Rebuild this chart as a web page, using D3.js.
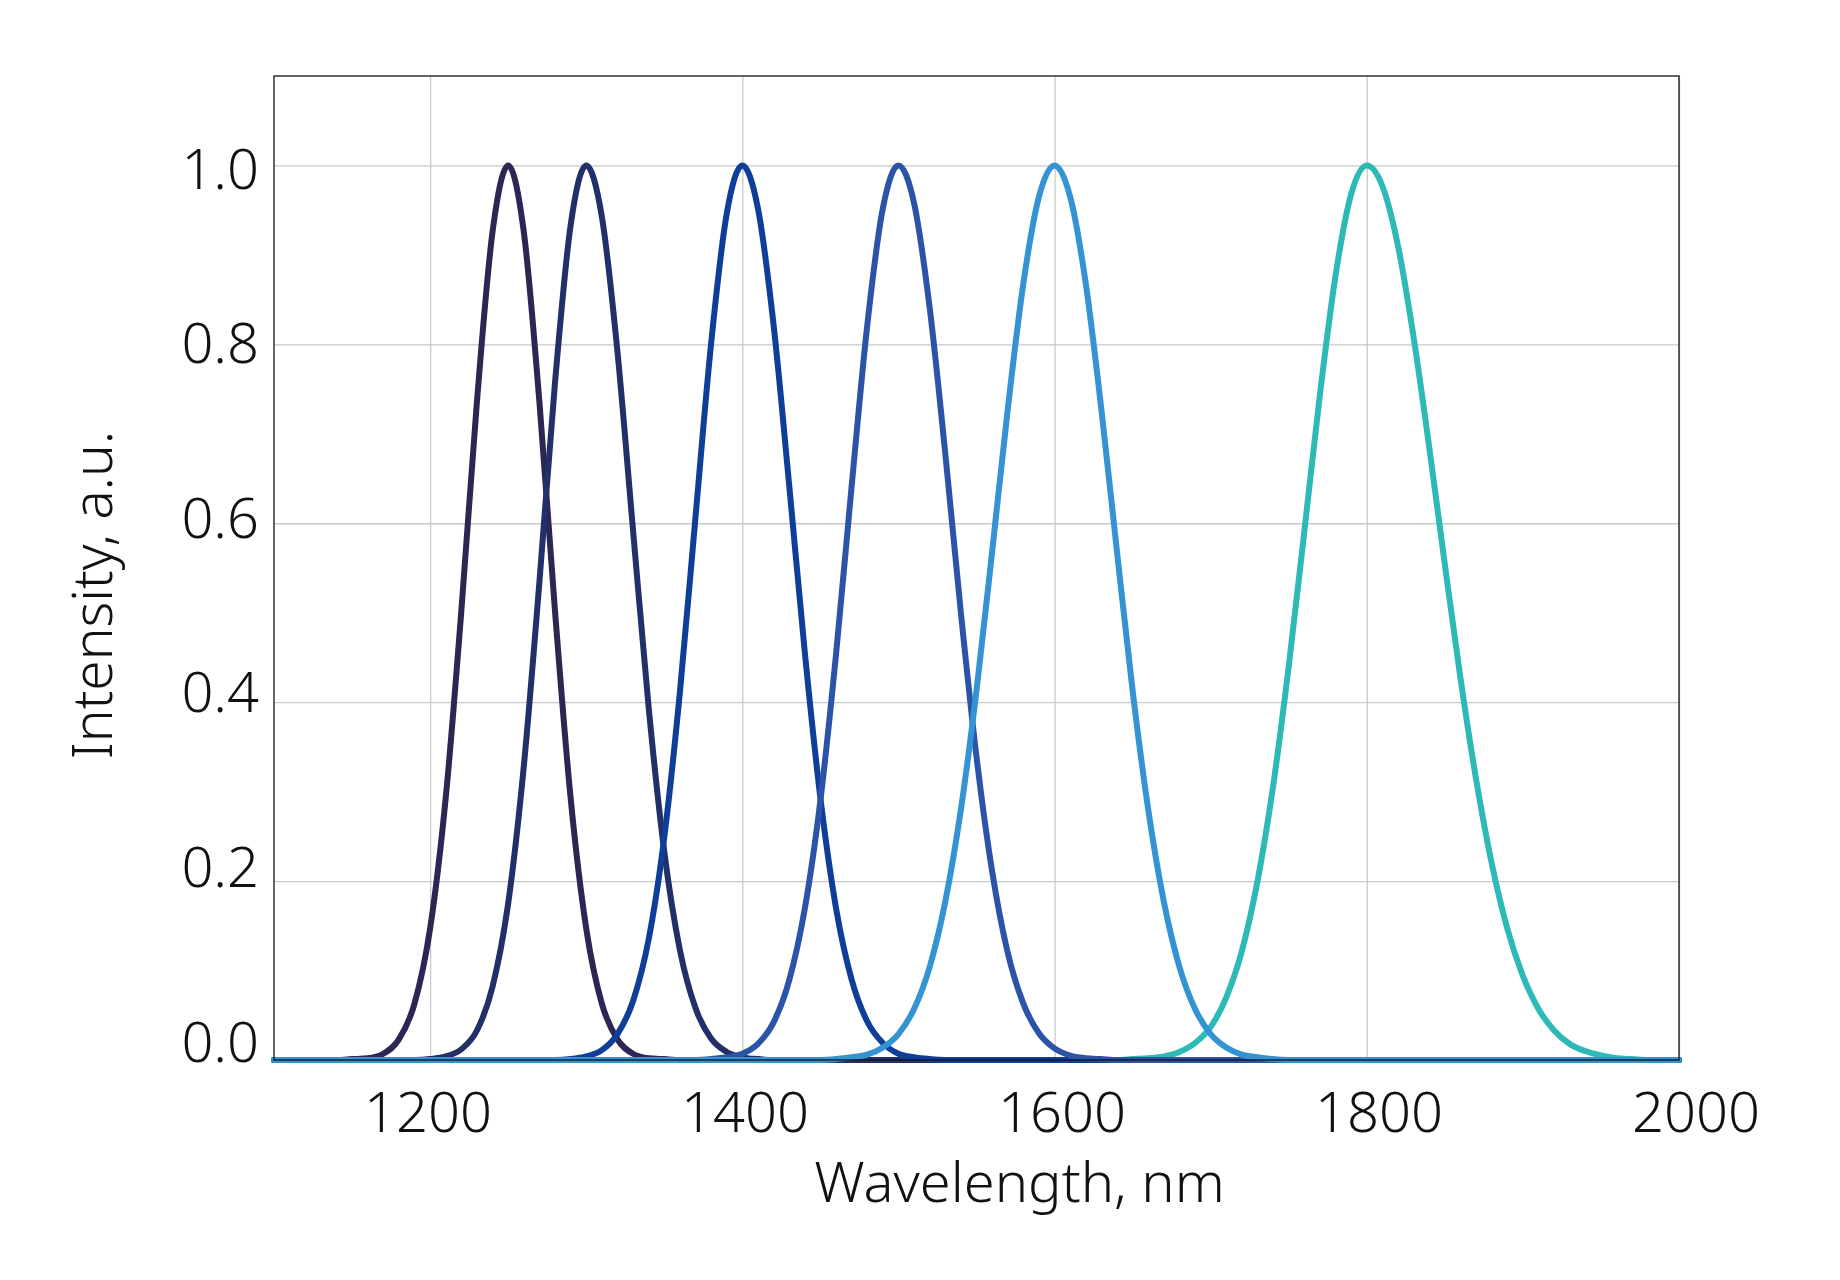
<!DOCTYPE html>
<html>
<head>
<meta charset="utf-8">
<script src="https://cdn.jsdelivr.net/npm/d3@7"></script>
<style>
	body { margin: 0; background: #fff; }
	text { font-family: "Noto Sans", sans-serif; font-weight: 300; fill: #111; }
	.grid line { stroke: #c9c9c9; stroke-width: 1.3; }
	.grid path { display: none; }
	.labels path { display: none; }
</style>
</head>
<body>
<div id="chart-area"><svg></svg></div>
<script>
const chartSize = { width: 1840, height: 1280 };
const margin = { left: 274, right: 161, top: 76, bottom: 220 };
const width = chartSize.width - margin.left - margin.right;
const height = chartSize.height - margin.top - margin.bottom;

// wavelength samples, nm
const wavelengths = [
	1100, 1110, 1120, 1130, 1140, 1150, 1160, 1170, 1180, 1190,
	1200, 1210, 1220, 1230, 1240, 1250, 1260, 1270, 1280, 1290,
	1300, 1310, 1320, 1330, 1340, 1350, 1360, 1370, 1380, 1390,
	1400, 1410, 1420, 1430, 1440, 1450, 1460, 1470, 1480, 1490,
	1500, 1510, 1520, 1530, 1540, 1550, 1560, 1570, 1580, 1590,
	1600, 1610, 1620, 1630, 1640, 1650, 1660, 1670, 1680, 1690,
	1700, 1710, 1720, 1730, 1740, 1750, 1760, 1770, 1780, 1790,
	1800, 1810, 1820, 1830, 1840, 1850, 1860, 1870, 1880, 1890,
	1900, 1910, 1920, 1930, 1940, 1950, 1960, 1970, 1980, 1990,
	2000
];

// normalised intensity of each source, one value per wavelength
const peak1250 = [
	0, 0, 0, 0, 0, 0.001, 0.002, 0.007, 0.023, 0.063,
	0.147, 0.293, 0.502, 0.736, 0.926, 1.000, 0.926, 0.736, 0.502, 0.293,
	0.147, 0.063, 0.023, 0.007, 0.002, 0.001, 0, 0, 0, 0,
	0, 0, 0, 0, 0, 0, 0, 0, 0, 0,
	0, 0, 0, 0, 0, 0, 0, 0, 0, 0,
	0, 0, 0, 0, 0, 0, 0, 0, 0, 0,
	0, 0, 0, 0, 0, 0, 0, 0, 0, 0,
	0, 0, 0, 0, 0, 0, 0, 0, 0, 0,
	0, 0, 0, 0, 0, 0, 0, 0, 0, 0,
	0
];
const peak1300 = [
	0, 0, 0, 0, 0, 0, 0, 0, 0, 0,
	0.001, 0.004, 0.012, 0.033, 0.082, 0.175, 0.328, 0.534, 0.757, 0.933,
	1.000, 0.943, 0.792, 0.592, 0.394, 0.233, 0.123, 0.058, 0.024, 0.009,
	0.003, 0.001, 0, 0, 0, 0, 0, 0, 0, 0,
	0, 0, 0, 0, 0, 0, 0, 0, 0, 0,
	0, 0, 0, 0, 0, 0, 0, 0, 0, 0,
	0, 0, 0, 0, 0, 0, 0, 0, 0, 0,
	0, 0, 0, 0, 0, 0, 0, 0, 0, 0,
	0, 0, 0, 0, 0, 0, 0, 0, 0, 0,
	0
];
const peak1400 = [
	0, 0, 0, 0, 0, 0, 0, 0, 0, 0,
	0, 0, 0, 0, 0, 0, 0, 0, 0, 0.001,
	0.004, 0.011, 0.029, 0.066, 0.135, 0.249, 0.411, 0.607, 0.801, 0.946,
	1.000, 0.952, 0.822, 0.643, 0.456, 0.293, 0.170, 0.090, 0.043, 0.019,
	0.007, 0.003, 0.001, 0, 0, 0, 0, 0, 0, 0,
	0, 0, 0, 0, 0, 0, 0, 0, 0, 0,
	0, 0, 0, 0, 0, 0, 0, 0, 0, 0,
	0, 0, 0, 0, 0, 0, 0, 0, 0, 0,
	0, 0, 0, 0, 0, 0, 0, 0, 0, 0,
	0
];
const peak1500 = [
	0, 0, 0, 0, 0, 0, 0, 0, 0, 0,
	0, 0, 0, 0, 0, 0, 0, 0, 0, 0,
	0, 0, 0, 0, 0, 0, 0, 0, 0.001, 0.003,
	0.007, 0.018, 0.042, 0.089, 0.169, 0.290, 0.453, 0.641, 0.821, 0.952,
	1.000, 0.958, 0.841, 0.678, 0.500, 0.339, 0.211, 0.120, 0.063, 0.030,
	0.013, 0.005, 0.002, 0.001, 0, 0, 0, 0, 0, 0,
	0, 0, 0, 0, 0, 0, 0, 0, 0, 0,
	0, 0, 0, 0, 0, 0, 0, 0, 0, 0,
	0, 0, 0, 0, 0, 0, 0, 0, 0, 0,
	0
];
const peak1600 = [
	0, 0, 0, 0, 0, 0, 0, 0, 0, 0,
	0, 0, 0, 0, 0, 0, 0, 0, 0, 0,
	0, 0, 0, 0, 0, 0, 0, 0, 0, 0,
	0, 0, 0, 0, 0, 0, 0.001, 0.003, 0.006, 0.014,
	0.029, 0.057, 0.104, 0.177, 0.280, 0.413, 0.568, 0.727, 0.868, 0.965,
	1.000, 0.965, 0.868, 0.727, 0.568, 0.413, 0.280, 0.177, 0.104, 0.057,
	0.029, 0.014, 0.006, 0.003, 0.001, 0, 0, 0, 0, 0,
	0, 0, 0, 0, 0, 0, 0, 0, 0, 0,
	0, 0, 0, 0, 0, 0, 0, 0, 0, 0,
	0
];
const peak1800 = [
	0, 0, 0, 0, 0, 0, 0, 0, 0, 0,
	0, 0, 0, 0, 0, 0, 0, 0, 0, 0,
	0, 0, 0, 0, 0, 0, 0, 0, 0, 0,
	0, 0, 0, 0, 0, 0, 0, 0, 0, 0,
	0, 0, 0, 0, 0, 0, 0, 0, 0, 0,
	0, 0, 0, 0, 0, 0.001, 0.002, 0.004, 0.009, 0.019,
	0.037, 0.070, 0.122, 0.200, 0.306, 0.440, 0.591, 0.744, 0.877, 0.968,
	1.000, 0.977, 0.910, 0.808, 0.685, 0.554, 0.427, 0.314, 0.220, 0.147,
	0.094, 0.057, 0.033, 0.018, 0.010, 0.005, 0.002, 0.001, 0, 0,
	0
];

const xTicks = [1200, 1400, 1600, 1800, 2000];
const yTicks = [0, 0.2, 0.4, 0.6, 0.8, 1.0];

// drawing order: last one ends up on top
const series = [
	{ name: "1800", values: peak1800, color: "#2dbab7" },
	{ name: "1250", values: peak1250, color: "#2b2653" },
	{ name: "1300", values: peak1300, color: "#222f68" },
	{ name: "1400", values: peak1400, color: "#0f3d9a" },
	{ name: "1500", values: peak1500, color: "#2b54a8" },
	{ name: "1600", values: peak1600, color: "#3393d3" }
];

const drawChart = () => {
	const svg = d3
		.select("#chart-area svg")
		.attr("width", chartSize.width)
		.attr("height", chartSize.height);

	const g = svg
		.append("g")
		.attr("transform", `translate(${margin.left},${margin.top})`);

	const x = d3.scaleLinear().domain([1100, 2000]).range([0, width]);
	const y = d3.scaleLinear().domain([0, 1.1]).range([height, 0]);

	// the tick labels of the original sit slightly off the grid
	const xLabel = d3.scaleLinear().domain([1200, 2000]).range([153.5, 1421.5]);
	const yLabel = d3.scaleLinear().domain([0, 1]).range([965, 92]);

	g.append("g")
		.attr("class", "grid")
		.attr("transform", `translate(0,${height})`)
		.call(d3.axisBottom(x).tickValues(xTicks).tickSize(-height).tickFormat(""));

	g.append("g")
		.attr("class", "grid")
		.call(d3.axisLeft(y).tickValues(yTicks.slice(1)).tickSize(-width).tickFormat(""));

	const line = d3
		.line()
		.x(d => x(d[0]))
		.y(d => y(d[1]))
		.curve(d3.curveMonotoneX);

	g.append("g")
		.selectAll("path")
		.data(series)
		.enter()
		.append("path")
		.attr("d", s => line(wavelengths.map((w, i) => [w, s.values[i]])))
		.attr("fill", "none")
		.attr("stroke", s => s.color)
		.attr("stroke-width", 6)
		.attr("stroke-linejoin", "round")
		.attr("stroke-linecap", "round");

	g.append("rect")
		.attr("width", width)
		.attr("height", height)
		.attr("fill", "none")
		.attr("stroke", "#111")
		.attr("stroke-width", 1.3);

	const xAxis = g
		.append("g")
		.attr("class", "labels")
		.attr("transform", `translate(0,${height})`)
		.call(d3.axisBottom(xLabel).tickValues(xTicks).tickSize(0).tickFormat(d3.format("d")));
	xAxis.selectAll("text")
		.attr("y", 72)
		.attr("dy", null)
		.style("font-size", "56px");
	xAxis.selectAll("line").remove();

	const yAxis = g
		.append("g")
		.attr("class", "labels")
		.call(d3.axisLeft(yLabel).tickValues(yTicks).tickSize(0).tickFormat(d3.format(".1f")));
	yAxis.selectAll("text")
		.attr("x", -15)
		.attr("dy", "0.36em")
		.style("font-size", "56px");
	yAxis.selectAll("line").remove();

	g.append("text")
		.attr("x", 745.5)
		.attr("y", 1126)
		.attr("text-anchor", "middle")
		.style("font-size", "56px")
		.text("Wavelength, nm");

	g.append("text")
		.attr("transform", "translate(-162,519) rotate(-90)")
		.attr("text-anchor", "middle")
		.style("font-size", "55px")
		.text("Intensity, a.u.");
};

drawChart();
</script>
</body>
</html>
